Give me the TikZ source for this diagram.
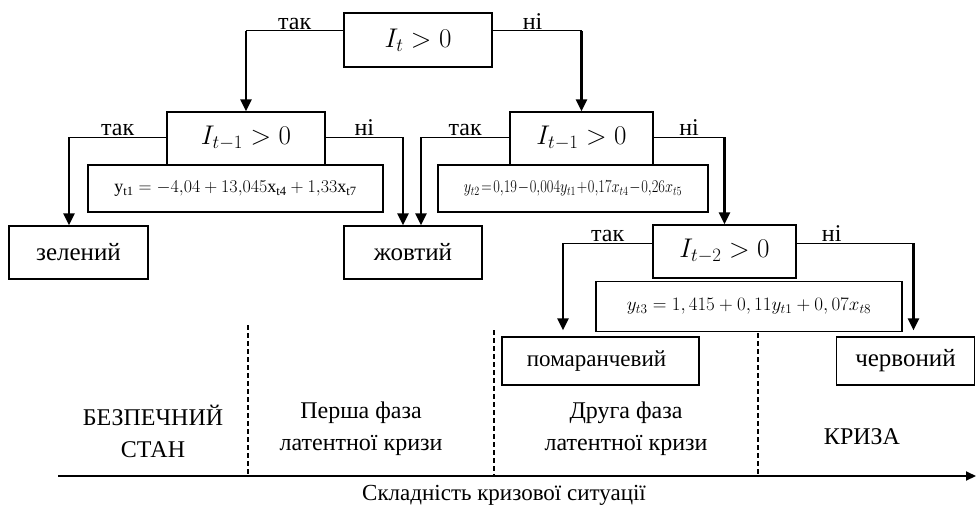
\RequirePackage{fix-cm}
\documentclass[tikz,border=0pt]{standalone}
\usepackage{fontspec}
\setmainfont{Liberation Serif}
\usetikzlibrary{arrows.meta}

\begin{document}
\begin{tikzpicture}[x=1pt,y=-1pt,
    cond/.style={draw,line width=1.2pt,inner sep=0pt,font=\fontsize{27}{32}\selectfont},
    leaf/.style={draw,line width=1.2pt,inner sep=0pt,font=\fontsize{25}{30}\selectfont},
    frm/.style={draw,line width=1.2pt,inner sep=0pt,font=\fontsize{18}{22}\selectfont},
    hline/.style={line width=1pt},
    down/.style={line width=2.4pt,-{Triangle[length=12pt,width=11pt]}},
    lbl/.style={font=\fontsize{24}{28}\selectfont,inner sep=1pt},
    phase/.style={font=\fontsize{24}{32}\selectfont,align=center},
    sep/.style={line width=1.4pt,dash pattern=on 5pt off 3pt}]

    \useasboundingbox (0,0) rectangle (976,511);

    % conditions
    \node[cond,minimum width=148pt,minimum height=54pt] (It) at (418,40) {$I_t>0$};
    \node[cond,minimum width=158pt,minimum height=53pt] (A1) at (246,138.5) {$I_{t-1}>0$};
    \node[cond,minimum width=143pt,minimum height=53pt] (A2) at (581.5,138.5) {$I_{t-1}>0$};
    \node[cond,minimum width=143pt,minimum height=53pt] (A3) at (724.5,251.5) {$I_{t-2}>0$};

    % formulas
    \node[frm,minimum width=295pt,minimum height=47pt] (F1) at (235.5,188.5)
        {$\mathrm{y}_{\mathrm{t1}}=-4{,}04+13{,}045\mathrm{x}_{\mathrm{t4}}+1{,}33\mathrm{x}_{\mathrm{t7}}$};
    \node[frm,minimum width=270pt,minimum height=47pt] (F2) at (573,188.5)
        {\scalebox{0.8}[1]{$y_{t2}\!=\!0{,}19\!-\!0{,}004y_{t1}\!+\!0{,}17x_{t4}\!-\!0{,}26x_{t5}$}};
    \node[frm,font=\fontsize{19}{23}\selectfont,minimum width=306pt,minimum height=50pt] (F3) at (749,306.5)
        {$y_{t3}=1,415+0,11y_{t1}+0,07x_{t8}$};

    % results
    \node[leaf,minimum width=139pt,minimum height=53pt] (green) at (78.5,252.5) {зелений};
    \node[leaf,minimum width=138pt,minimum height=53pt] (yellow) at (413,252.5) {жовтий};
    \node[leaf,font=\fontsize{23}{28}\selectfont,minimum width=197pt,minimum height=48pt] (orange) at (600.5,361) {помаранчевий\hspace*{8pt}};
    \node[leaf,minimum width=138pt,minimum height=48pt] (red) at (905.5,361) {червоний};

    % entry points
    \coordinate (greenIn) at ([xshift=-9.5pt]green.north);
    \coordinate (yellowL) at ([xshift=-10pt]yellow.north);
    \coordinate (yellowR) at ([xshift=8pt]yellow.north);
    \coordinate (orangeIn) at ([xshift=-37.5pt,yshift=6pt]orange.north);
    \coordinate (redIn) at ([xshift=8pt,yshift=6pt]red.north);

    % branches
    \draw[hline] ([yshift=9pt]It.west) -- ([yshift=9pt]It.west -| A1.north) node[midway,above,lbl] {так};
    \draw[down] ([yshift=9pt]It.west -| A1.north) -- (A1.north);
    \draw[hline] ([yshift=9pt]It.east) -- ([yshift=9pt]It.east -| A2.north) node[pos=0.45,above,lbl] {ні};
    \draw[down] ([yshift=9pt]It.east -| A2.north) -- (A2.north);

    \draw[hline] ([yshift=1.5pt]A1.west) -- ([yshift=1.5pt]A1.west -| greenIn) node[midway,above,lbl] {так};
    \draw[down] ([yshift=1.5pt]A1.west -| greenIn) -- (greenIn);
    \draw[hline] ([yshift=1.5pt]A1.east) -- ([yshift=1.5pt]A1.east -| yellowL) node[midway,above,lbl] {ні};
    \draw[down] ([yshift=1.5pt]A1.east -| yellowL) -- (yellowL);

    \draw[hline] ([yshift=1.5pt]A2.west) -- ([yshift=1.5pt]A2.west -| yellowR) node[midway,above,lbl] {так};
    \draw[down] ([yshift=1.5pt]A2.west -| yellowR) -- (yellowR);
    \draw[hline] ([yshift=1.5pt]A2.east) -- ([yshift=1.5pt]A2.east -| A3.north) node[midway,above,lbl] {ні};
    \draw[down] ([yshift=1.5pt]A2.east -| A3.north) -- (A3.north);

    \draw[hline] ([yshift=8.5pt]A3.west) -- ([yshift=8.5pt]A3.west -| orangeIn) node[midway,above,lbl] {так};
    \draw[down] ([yshift=8.5pt]A3.west -| orangeIn) -- (orangeIn);
    \draw[hline] ([yshift=8.5pt]A3.east) -- ([yshift=8.5pt]A3.east -| redIn) node[pos=0.3,above,lbl] {ні};
    \draw[down] ([yshift=8.5pt]A3.east -| redIn) -- (redIn);

    % phases
    \node[phase] (safe) at (153,431) {БЕЗПЕЧНИЙ\\СТАН};
    \node[phase] (ph1) at (361,429) {Перша фаза\\латентної кризи};
    \node[phase] (ph2) at (626,429) {Друга фаза\\латентної кризи};
    \node[phase] (crisis) at (862,437) {КРИЗА};

    % axis
    \coordinate (ax0) at (58,476);
    \coordinate (ax1) at (976,476);
    \draw[line width=2pt,-{Triangle[length=10pt,width=9pt]}] (ax0) -- (ax1);
    \node[font=\fontsize{23}{27}\selectfont] (axl) at (504,495) {Складність кризової ситуації};

    \draw[sep] (248,325) -- (248,476);
    \draw[sep] (494,330) -- (494,476);
    \draw[sep] (758,333) -- (758,476);
\end{tikzpicture}
\end{document}
